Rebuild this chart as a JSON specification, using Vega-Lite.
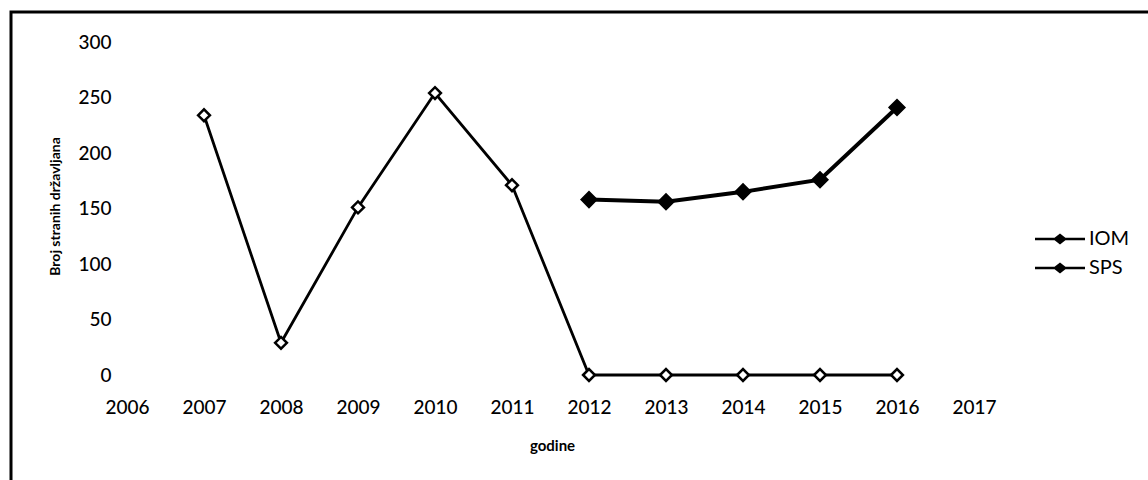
{
  "$schema": "https://vega.github.io/schema/vega-lite/v6.json",
  "width": 1145,
  "height": 475,
  "autosize": {"type": "none"},
  "padding": {"left": 11, "top": 12, "right": 0, "bottom": 0},
  "background": "white",
  "config": {
    "view": {"stroke": "black", "strokeWidth": 3},
    "font": "Lato"
  },
  "data": {
    "values": [
      {"year": 2007, "series": "IOM", "value": 234},
      {"year": 2008, "series": "IOM", "value": 29},
      {"year": 2009, "series": "IOM", "value": 151},
      {"year": 2010, "series": "IOM", "value": 254},
      {"year": 2011, "series": "IOM", "value": 171},
      {"year": 2012, "series": "IOM", "value": 0},
      {"year": 2013, "series": "IOM", "value": 0},
      {"year": 2014, "series": "IOM", "value": 0},
      {"year": 2015, "series": "IOM", "value": 0},
      {"year": 2016, "series": "IOM", "value": 0},
      {"year": 2012, "series": "SPS", "value": 158},
      {"year": 2013, "series": "SPS", "value": 156},
      {"year": 2014, "series": "SPS", "value": 165},
      {"year": 2015, "series": "SPS", "value": 176},
      {"year": 2016, "series": "SPS", "value": 241}
    ]
  },
  "encoding": {
    "x": {
      "field": "year",
      "type": "quantitative",
      "scale": {"domain": [2004.4935, 2019.3636], "nice": false, "zero": false},
      "axis": {
        "values": [2006, 2007, 2008, 2009, 2010, 2011, 2012, 2013, 2014, 2015, 2016, 2017],
        "format": "d",
        "domain": false,
        "ticks": false,
        "grid": false,
        "labelFontSize": 19,
        "labelFontWeight": 500,
        "labelColor": "black",
        "labelPadding": 23,
        "labelFlush": false,
        "offset": -112,
        "title": "godine",
        "titleFontSize": 15,
        "titleFontWeight": "bold",
        "titleColor": "black",
        "titleX": 541,
        "titleY": 70,
        "titleBaseline": "middle",
        "titleAlign": "center"
      }
    },
    "y": {
      "field": "value",
      "type": "quantitative",
      "scale": {"domain": [-100.9, 327.03], "nice": false, "zero": false},
      "axis": {
        "values": [0, 50, 100, 150, 200, 250, 300],
        "domain": false,
        "ticks": false,
        "grid": false,
        "labelFontSize": 19,
        "labelFontWeight": 500,
        "labelColor": "black",
        "labelPadding": 9,
        "labelFlush": false,
        "offset": -109,
        "title": "Broj stranih državljana",
        "titleFontSize": 14,
        "titleFontWeight": "bold",
        "titleColor": "black",
        "titleX": -65,
        "titleY": 194,
        "titleAngle": -90,
        "titleAlign": "center",
        "titleBaseline": "middle"
      }
    }
  },
  "layer": [
    {
      "transform": [{"filter": "datum.series === 'IOM'"}],
      "mark": {"type": "line", "strokeWidth": 2.8},
      "encoding": {
        "color": {
          "field": "series",
          "type": "nominal",
          "scale": {"domain": ["IOM", "SPS"], "range": ["black", "black"]},
          "legend": {
            "title": null,
            "orient": "none",
            "legendX": 1039,
            "legendY": 217,
            "padding": 0,
            "symbolType": "M-5,0H5M-1,0L0,-0.8L1,0L0,0.8Z",
            "symbolSize": 100,
            "symbolStrokeWidth": 2.5,
            "symbolFillColor": "black",
            "symbolStrokeColor": "black",
            "labelFontSize": 20,
            "labelColor": "black",
            "labelOffset": 19,
            "rowPadding": 9,
            "encode": {
              "symbols": {"update": {"fill": {"value": "black"}, "stroke": {"value": "black"}, "shape": {"value": "M-5,0H5M-1,0L0,-0.8L1,0L0,0.8Z"}, "strokeWidth": {"value": 2.5}}}
            }
          }
        }
      }
    },
    {
      "transform": [{"filter": "datum.series === 'SPS'"}],
      "mark": {"type": "line", "strokeWidth": 4},
      "encoding": {
        "color": {"field": "series", "type": "nominal"}
      }
    },
    {
      "transform": [{"filter": "datum.series === 'IOM'"}],
      "mark": {"type": "point", "shape": "diamond", "filled": true, "fill": "white", "stroke": "black", "strokeWidth": 2.5, "opacity": 1, "size": 140},
      "encoding": {}
    },
    {
      "transform": [{"filter": "datum.series === 'SPS'"}],
      "mark": {"type": "point", "shape": "diamond", "filled": true, "fill": "black", "stroke": "black", "strokeWidth": 2.5, "opacity": 1, "size": 210},
      "encoding": {}
    }
  ]
}
